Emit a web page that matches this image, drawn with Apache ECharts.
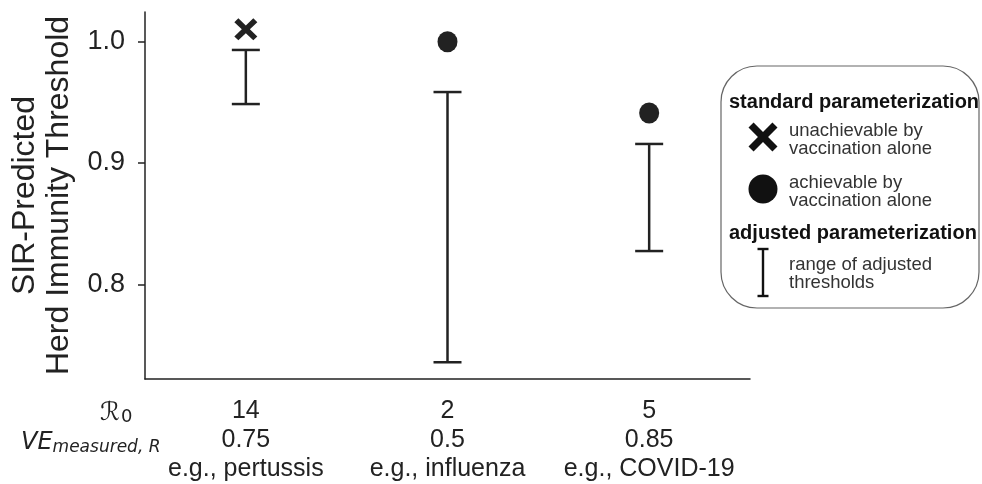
<!DOCTYPE html>
<html>
<head>
<meta charset="utf-8">
<script src="https://cdn.jsdelivr.net/npm/echarts@6/dist/echarts.min.js"></script>
<style>
html,body{margin:0;padding:0;background:#fff;}
#chart{width:982px;height:484px;}
</style>
</head>
<body>
<div id="chart"></div>
<script>
const diseases = ['pertussis', 'influenza', 'COVID-19'];
const r0Values = ['14', '2', '5'];
const veValues = ['0.75', '0.5', '0.85'];
const standardHIT = [1.0102, 1.0, 0.9412];
const achievable = [false, true, true];
const adjustedLow = [0.9486, 0.7357, 0.8274];
const adjustedHigh = [0.9932, 0.9585, 0.9157];
const yTicks = [0.8, 0.9, 1.0];

const FONT = '"Liberation Sans", Arial, Helvetica, sans-serif';
const INK = '#222222';
const X_PATH = 'path://M0,3.5 L3.5,0 L10,6.5 L16.5,0 L20,3.5 L13.5,10 L20,16.5 L16.5,20 L10,13.5 L3.5,20 L0,16.5 L6.5,10 Z';

const chart = echarts.init(document.getElementById('chart'), null, {renderer: 'canvas'});

const crossData = [], circleData = [];
standardHIT.forEach((v, i) => {
  (achievable[i] ? circleData : crossData).push([i, v]);
});
const barData = adjustedLow.map((lo, i) => [i, lo, adjustedHigh[i]]);

function xMarkPoints(cx, cy, s) {
  const k = s / 20;
  const p = [[0,3.5],[3.5,0],[10,6.5],[16.5,0],[20,3.5],[13.5,10],[20,16.5],[16.5,20],[10,13.5],[3.5,20],[0,16.5],[6.5,10]];
  return p.map(q => [cx + (q[0] - 10) * k, cy + (q[1] - 10) * k]);
}

const option = {
  animation: false,
  backgroundColor: '#fff',
  grid: {left: 145, right: 232, top: 12, bottom: 105},
  xAxis: {
    type: 'category',
    data: diseases,
    boundaryGap: true,
    axisLine: {lineStyle: {color: INK, width: 1.5}},
    axisTick: {alignWithLabel: true, length: 7, lineStyle: {color: INK, width: 1.5}},
    axisLabel: {
      interval: 0,
      margin: 18,
      fontFamily: FONT,
      fontSize: 25,
      color: '#222',
      lineHeight: 29,
      formatter: (val, idx) => r0Values[idx] + '\n' + veValues[idx] + '\ne.g., ' + val
    }
  },
  yAxis: {
    type: 'value',
    min: 0.7219,
    max: 1.0245,
    splitLine: {show: false},
    axisLine: {show: true, lineStyle: {color: INK, width: 1.5}},
    axisTick: {show: true, length: 7, customValues: yTicks, lineStyle: {color: INK, width: 1.5}},
    axisLabel: {
      customValues: yTicks,
      margin: 20,
      fontFamily: FONT,
      fontSize: 27,
      color: '#222',
      formatter: v => v.toFixed(1)
    },
    name: 'SIR-Predicted\nHerd Immunity Threshold',
    nameLocation: 'middle',
    nameRotate: 90,
    nameGap: 55,
    nameTextStyle: {fontFamily: FONT, fontSize: 32, lineHeight: 34, color: '#222'}
  },
  series: [
    {
      type: 'custom',
      name: 'range of adjusted thresholds',
      data: barData,
      renderItem: (params, api) => {
        const x = api.value(0);
        const top = api.coord([x, api.value(2)]);
        const bot = api.coord([x, api.value(1)]);
        const half = 14;
        const style = {stroke: INK, lineWidth: 2.5, fill: null};
        return {
          type: 'group',
          children: [
            {type: 'line', shape: {x1: top[0], y1: top[1], x2: bot[0], y2: bot[1]}, style},
            {type: 'line', shape: {x1: top[0] - half, y1: top[1], x2: top[0] + half, y2: top[1]}, style},
            {type: 'line', shape: {x1: bot[0] - half, y1: bot[1], x2: bot[0] + half, y2: bot[1]}, style}
          ]
        };
      },
      z: 3
    },
    {
      type: 'scatter',
      name: 'unachievable by vaccination alone',
      data: crossData,
      symbol: X_PATH,
      symbolSize: [23, 22],
      itemStyle: {color: INK, opacity: 1},
      z: 4
    },
    {
      type: 'scatter',
      name: 'achievable by vaccination alone',
      data: circleData,
      symbol: 'circle',
      symbolSize: [20, 21],
      itemStyle: {color: INK, opacity: 1},
      z: 4
    }
  ],
  graphic: [
    {
      type: 'text', x: 100, y: 413,
      style: {
        text: '{r|ℛ}{s|0}',
        verticalAlign: 'middle',
        rich: {
          r: {fontFamily: '"DejaVu Serif", "DejaVu Sans", serif', fontStyle: 'italic', fontSize: 25, fill: '#222'},
          s: {fontFamily: '"DejaVu Sans", sans-serif', fontSize: 18, fill: '#222', padding: [8, 0, 0, 1]}
        }
      }
    },
    {
      type: 'text', x: 21, y: 443,
      style: {
        text: '{v|VE}{s|measured, R}',
        verticalAlign: 'middle',
        rich: {
          v: {fontFamily: '"DejaVu Sans", sans-serif', fontStyle: 'italic', fontSize: 24, fill: '#222'},
          s: {fontFamily: '"DejaVu Sans", sans-serif', fontStyle: 'italic', fontSize: 17, fill: '#222', padding: [10, 0, 0, 0]}
        }
      }
    },
    {
      type: 'rect', shape: {x: 721, y: 66, width: 258, height: 242, r: 36},
      style: {fill: '#fff', stroke: '#666', lineWidth: 1.2}, z: 10
    },
    {
      type: 'text', x: 729, y: 102, z: 11,
      style: {text: 'standard parameterization', fontFamily: FONT, fontWeight: 'bold', fontSize: 20, fill: '#111', verticalAlign: 'middle'}
    },
    {type: 'polygon', z: 11, shape: {points: xMarkPoints(763, 137, 29)}, style: {fill: '#111'}},
    {
      type: 'text', x: 789, y: 140, z: 11,
      style: {text: 'unachievable by\nvaccination alone', fontFamily: FONT, fontSize: 18.5, lineHeight: 18.5, fill: '#333', verticalAlign: 'middle'}
    },
    {type: 'circle', z: 11, shape: {cx: 763, cy: 189, r: 14.5}, style: {fill: '#111'}},
    {
      type: 'text', x: 789, y: 192, z: 11,
      style: {text: 'achievable by\nvaccination alone', fontFamily: FONT, fontSize: 18.5, lineHeight: 18.5, fill: '#333', verticalAlign: 'middle'}
    },
    {
      type: 'text', x: 729, y: 233, z: 11,
      style: {text: 'adjusted parameterization', fontFamily: FONT, fontWeight: 'bold', fontSize: 20, fill: '#111', verticalAlign: 'middle'}
    },
    {type: 'line', z: 11, shape: {x1: 763, y1: 249, x2: 763, y2: 296}, style: {stroke: '#111', lineWidth: 2.4}},
    {type: 'line', z: 11, shape: {x1: 757.5, y1: 249, x2: 768.5, y2: 249}, style: {stroke: '#111', lineWidth: 2.4}},
    {type: 'line', z: 11, shape: {x1: 757.5, y1: 296, x2: 768.5, y2: 296}, style: {stroke: '#111', lineWidth: 2.4}},
    {
      type: 'text', x: 789, y: 274, z: 11,
      style: {text: 'range of adjusted\nthresholds', fontFamily: FONT, fontSize: 18.5, lineHeight: 18.5, fill: '#333', verticalAlign: 'middle'}
    }
  ]
};
chart.setOption(option);
</script>
</body>
</html>
